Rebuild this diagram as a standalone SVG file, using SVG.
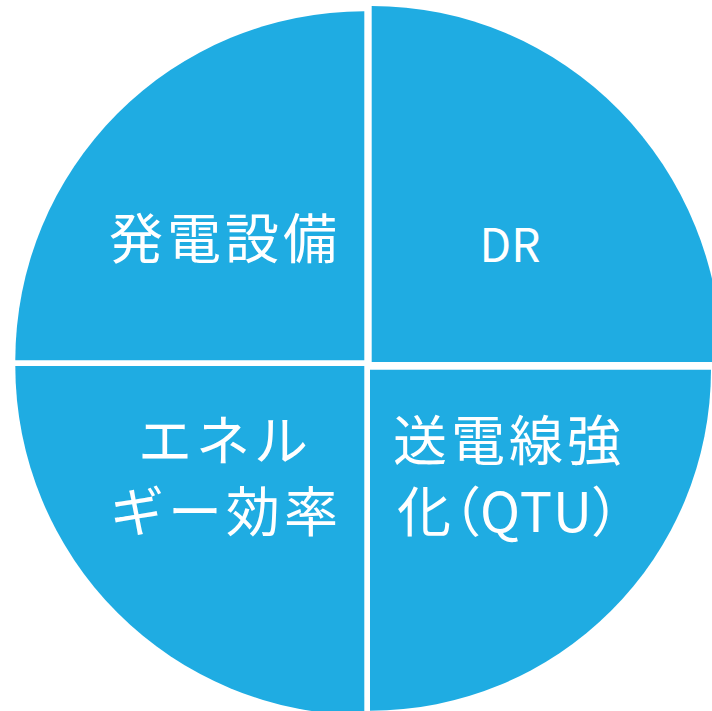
<svg xmlns="http://www.w3.org/2000/svg" width="712" height="711" viewBox="0 0 712 711">
<style>
.q{fill:#1FACE2}
.t{fill:#FFFFFF;font-family:"Noto Sans CJK JP","Noto Sans",sans-serif;font-size:54px;text-anchor:middle;letter-spacing:4px}
.p{font-feature-settings:"palt";letter-spacing:1px}
</style>
<rect width="712" height="711" fill="#FFFFFF"/>
<g id="node-hatsuden">
<path class="q" d="M364.3,360.3 L15.3,360.3 A349,349 0 0 1 364.3,11.3 Z"/>
<text class="t" x="225" y="259">発電設備</text>
</g>
<g id="node-dr">
<path class="q" d="M371.7,362 L371.7,6 A350,356 0 0 1 721.7,362 Z"/>
<text class="t" x="510" y="262" style="font-size:46px;letter-spacing:0">DR</text>
</g>
<g id="node-energy">
<path class="q" d="M364.3,366 L364.3,715 A349,349 0 0 1 15.3,366 Z"/>
<text class="t"><tspan x="225" y="461">エネル</tspan><tspan x="226" y="532">ギー効率</tspan></text>
</g>
<g id="node-souden">
<path class="q" d="M370,369.7 L711,369.7 A341,341 0 0 1 370,710.7 Z"/>
<text class="t"><tspan x="509" y="461">送電線強</tspan><tspan class="p" x="509" y="532">化（QTU）</tspan></text>
</g>
<g id="connectors"></g>
</svg>
